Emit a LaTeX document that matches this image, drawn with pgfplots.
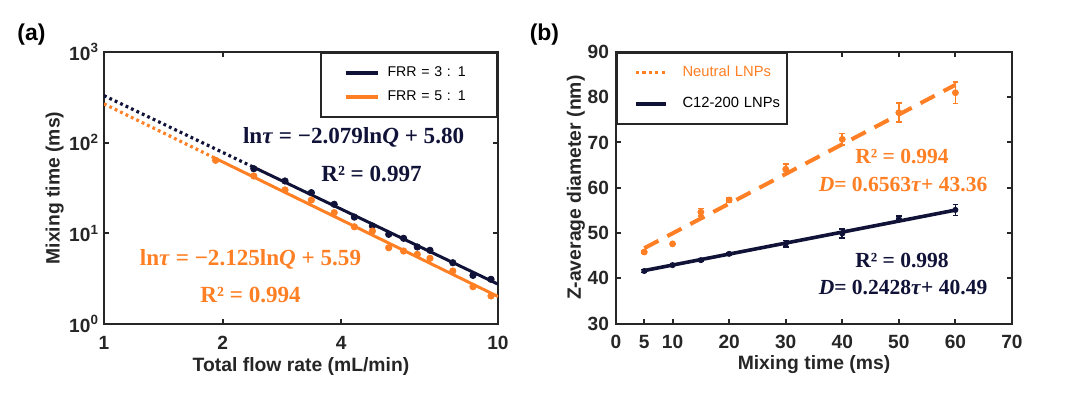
\documentclass[border=0pt]{standalone}
\usepackage{pgfplots}
\usepackage{pgfplotstable}
\pgfplotsset{compat=1.18}
\usepackage{fontspec}
\setmainfont{Liberation Sans}
\newfontfamily\seriffont{Liberation Serif}
\definecolor{navy}{RGB}{16,18,56}
\definecolor{orng}{RGB}{255,127,36}
\definecolor{axgray}{RGB}{38,38,38}
\newcommand{\fs}[1]{\fontsize{#1}{#1}\selectfont}

\pgfplotstableread{
Q tau
2.40 51.6
2.88 37.8
3.36 28.1
3.84 20.9
4.32 15.1
4.80 12.05
5.28 9.75
5.76 8.81
6.24 7.07
6.72 6.50
7.68 4.74
8.64 3.44
9.60 3.11
}\frrthree
\pgfplotstableread{
Q tau
1.92 63.9
2.40 42.9
2.88 30.1
3.36 23.3
3.84 16.9
4.32 11.8
4.80 10.6
5.28 6.94
5.76 6.38
6.24 5.87
6.72 5.30
7.68 3.84
8.64 2.58
9.60 2.04
}\frrfive
\pgfplotstableread{
t D e
5 45.8 0.3
10 47.6 0.3
15 54.6 0.8
20 57.3 0.5
30 64.1 1.1
40 70.7 1.3
50 76.6 2.1
60 81.0 2.4
}\neutral
\pgfplotstableread{
t D e
5 41.6 0.3
10 42.9 0.3
15 44.0 0.3
20 45.4 0.3
30 47.6 0.7
40 49.9 1.0
50 53.1 0.6
60 55.1 1.2
}\cionetwo

\pgfplotsset{myaxis/.style={
  scale only axis,
  axis line style={axgray, line width=1bp},
  every tick/.style={axgray, line width=1bp},
  major tick length=2.5bp,
  tick align=inside,
  xminorticks=false, yminorticks=false,
  tick label style={font=\fs{9.6}\bfseries, text=axgray},
  label style={font=\fs{9.7}\bfseries, text=axgray},
  xticklabel style={yshift=-2.5bp},
  legend cell align=left,
}}

\begin{document}
\begin{tikzpicture}
\path[use as bounding box] (0bp,0bp) rectangle (540bp,198.5bp);

% ---------------- panel (a)
\begin{axis}[myaxis,
  at={(52bp,36.5bp)}, anchor=south west,
  width=197bp, height=136bp,
  xmode=log, ymode=log,
  xmin=1, xmax=10, ymin=1, ymax=1000,
  xtick={1,2,4,10}, xticklabels={1,2,4,10},
  ytick={1,10,100,1000},
  yticklabels={10\textsuperscript{0},10\textsuperscript{1},10\textsuperscript{2},10\textsuperscript{3}},
  yticklabel style={xshift=1bp},
  xlabel={Total flow rate (mL/min)},
  ylabel={Mixing time (ms)},
  xlabel style={at={(axis description cs:0.5,-0.1555)}, anchor=center},
  ylabel style={at={(axis description cs:-0.125,0.5)}, anchor=center},
  legend image code/.code={\path[draw=none,fill=none] (0bp,-5.9bp) rectangle (33.1bp,5.9bp); \draw[#1] (12.1bp,0bp) -- (28.5bp,0bp);},
  legend style={at={(1,1)}, anchor=north east, draw=axgray, line width=1bp,
    inner xsep=0pt, inner ysep=4.2bp, column sep=0pt, row sep=0pt,
    font=\fs{7.1},
    nodes={inner sep=0pt, text width=54.7bp, align=left, text depth=0.15em}},
]
\addlegendimage{navy, line width=2bp}
\addlegendentry{FRR = 3 : 1}
\addlegendimage{orng, line width=2bp}
\addlegendentry{FRR = 5 : 1}
% fitted lines
\addplot[navy, line width=1.6bp, dash pattern=on 1.4bp off 1.6bp, forget plot] coordinates {(1,330.3) (2.4,53.5)};
\addplot[navy, line width=1.5bp, forget plot] coordinates {(2.4,53.5) (10,2.75)};
\addplot[orng, line width=1.6bp, dash pattern=on 1.4bp off 1.6bp, forget plot] coordinates {(1,267.7) (1.92,67.0)};
\addplot[orng, line width=1.5bp, forget plot] coordinates {(1.92,67.0) (10,2.01)};
% data points
\addplot[only marks, mark=*, mark size=1.6bp, navy, forget plot] table[x=Q,y=tau] {\frrthree};
\addplot[only marks, mark=*, mark size=1.6bp, orng, forget plot] table[x=Q,y=tau] {\frrfive};
\end{axis}

% ---------------- panel (b)
\begin{axis}[myaxis,
  at={(308bp,36.75bp)}, anchor=south west,
  width=198bp, height=135.75bp,
  xmin=0, xmax=70, ymin=30, ymax=90,
  xtick={0,5,10,20,30,40,50,60,70},
  ytick={30,40,50,60,70,80,90},
  /pgf/number format/assume math mode=true,
  xlabel={Mixing time (ms)},
  ylabel={Z-average diameter (nm)},
  xlabel style={at={(axis description cs:0.5,-0.153)}, anchor=center},
  ylabel style={at={(axis description cs:-0.101,0.5)}, anchor=center},
  legend image code/.code={\path[draw=none,fill=none] (0bp,-7.875bp) rectangle (32.75bp,7.875bp); \draw[#1] (9.5bp,0bp) -- (24.7bp,0bp);},
  legend style={at={(0,1)}, anchor=north west, draw=axgray, line width=1bp,
    inner xsep=0pt, inner ysep=1.9bp, column sep=0pt, row sep=0pt,
    font=\fs{7.4},
    nodes={inner sep=0pt, text width=52.4bp, align=left, text depth=0.15em}},
]
\addlegendimage{orng, line width=1.7bp, dash pattern=on 1.6bp off 1.6bp}
\addlegendentry{\textcolor{orng}{Neutral LNPs}}
\addlegendimage{navy, line width=2bp}
\addlegendentry{C12-200 LNPs}
% fitted lines
\addplot[orng, line width=2bp, dash pattern=on 8bp off 5bp, forget plot] coordinates {(5,46.64) (60,82.74)};
\addplot[navy, line width=1.8bp, forget plot] coordinates {(5,41.70) (60,55.06)};
% data with error bars
\addplot[only marks, mark=*, mark size=1.5bp, orng, forget plot,
  error bars/.cd, y dir=both, y explicit,
  error bar style={line width=0.8bp, orng},
  error mark options={rotate=90, mark size=1.4bp, line width=0.8bp, orng}]
  table[x=t, y=D, y error=e] {\neutral};
\addplot[only marks, mark=*, mark size=1.3bp, navy, forget plot,
  error bars/.cd, y dir=both, y explicit,
  error bar style={line width=0.8bp, navy},
  error mark options={rotate=90, mark size=1.4bp, line width=0.8bp, navy}]
  table[x=t, y=D, y error=e] {\cionetwo};
\end{axis}

% ---------------- panel labels
\node[font=\fs{11.5}\bfseries, text=black] at (15.75bp,181.1bp) {(a)};
\node[font=\fs{11.5}\bfseries, text=black] at (272.2bp,181.1bp) {(b)};

% ---------------- annotations (a)
\node[anchor=base, text=navy, font=\fs{11.6}\seriffont\bfseries] at (176.8bp,126.5bp) {ln\textit{τ} = −2.079ln\textit{Q} + 5.80};
\node[anchor=base, text=navy, font=\fs{11.6}\seriffont\bfseries] at (185.75bp,107.7bp) {R² = 0.997};
\node[anchor=base, text=orng, font=\fs{11.6}\seriffont\bfseries] at (125.25bp,65.8bp) {ln\textit{τ} = −2.125ln\textit{Q} + 5.59};
\node[anchor=base, text=orng, font=\fs{11.6}\seriffont\bfseries] at (125.3bp,47.0bp) {R² = 0.994};

% ---------------- annotations (b)
\node[anchor=base, text=orng, font=\fs{10.8}\seriffont\bfseries] at (451bp,116.8bp) {R² = 0.994};
\node[anchor=base, text=orng, font=\fs{10.8}\seriffont\bfseries] at (451.5bp,102.7bp) {\textit{D}= 0.6563\textit{τ}+ 43.36};
\node[anchor=base, text=navy, font=\fs{10.8}\seriffont\bfseries] at (451bp,64.85bp) {R² = 0.998};
\node[anchor=base, text=navy, font=\fs{10.8}\seriffont\bfseries] at (451.5bp,51.25bp) {\textit{D}= 0.2428\textit{τ}+ 40.49};
\end{tikzpicture}
\end{document}
